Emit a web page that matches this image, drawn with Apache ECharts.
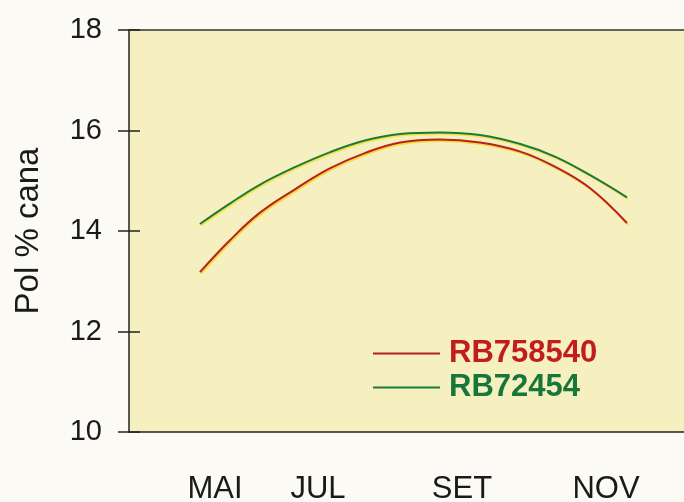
<!DOCTYPE html>
<html>
<head>
<meta charset="utf-8">
<script src="https://cdn.jsdelivr.net/npm/echarts@6/dist/echarts.min.js"></script>
<style>
html,body{margin:0;padding:0;background:#fbfaf5;}
#chart{width:684px;height:502px;}
</style>
</head>
<body>
<div id="chart"></div>
<script>
// Month labels and their positions on the month scale (5 = May ... 11 = Nov)
var xLabels = ['MAI', 'JUL', 'SET', 'NOV'];
var xLabelPos = [5.57, 7, 9, 11];
// Sample months along the curves
var months = [5.36, 5.78, 6.19, 6.68, 7.17, 7.65, 8.14, 8.69, 9.25, 9.81, 10.29, 10.78, 11.29];
// Pol % cana values
var rb758540 = [13.18, 13.82, 14.36, 14.83, 15.25, 15.55, 15.76, 15.82, 15.76, 15.58, 15.28, 14.85, 14.16];
var rb72454 = [14.14, 14.55, 14.92, 15.27, 15.57, 15.80, 15.93, 15.96, 15.91, 15.73, 15.48, 15.11, 14.67];
var yTicks = [10, 12, 14, 16, 18];

var FONT = '"Liberation Sans", Arial, sans-serif';
var chart = echarts.init(document.getElementById('chart'));

function pairs(xs, ys) { return xs.map(function (x, i) { return [x, ys[i]]; }); }

chart.setOption({
  backgroundColor: '#fbfaf5',
  animation: false,
  grid: {
    left: 129, right: 0, top: 30, bottom: 70,
    show: true, backgroundColor: '#f6efbf', borderWidth: 0,
    outerBoundsMode: 'none'
  },
  legend: {
    orient: 'vertical', left: 373, top: 338, padding: 0,
    icon: 'rect', itemWidth: 67, itemHeight: 2, itemGap: 3,
    textStyle: { fontSize: 31, fontWeight: 'bold', fontFamily: FONT, lineHeight: 31, padding: [0, 0, 0, 4] },
    data: [
      { name: 'RB758540', textStyle: { color: '#c21d1d' } },
      { name: 'RB72454', textStyle: { color: '#17773a' } }
    ]
  },
  xAxis: [{
    type: 'value', min: 4.375, max: 12.083, position: 'bottom',
    axisLine: { show: true, lineStyle: { color: '#222', width: 1.5 } },
    axisTick: { show: false },
    splitLine: { show: false },
    axisLabel: {
      customValues: xLabelPos,
      formatter: function (v) {
        var best = 0, d = 1e9;
        xLabelPos.forEach(function (p, i) { if (Math.abs(p - v) < d) { d = Math.abs(p - v); best = i; } });
        return xLabels[best];
      },
      fontSize: 31, color: '#1a1a1a', margin: 42, fontFamily: FONT
    }
  }, {
    type: 'value', min: 4.375, max: 12.083, position: 'top',
    axisLine: { show: true, lineStyle: { color: '#333', width: 1.5 } },
    axisTick: { show: false }, axisLabel: { show: false }, splitLine: { show: false }
  }],
  yAxis: [{
    type: 'value', min: 10, max: 18, interval: 2,
    axisLine: { show: true, lineStyle: { color: '#222', width: 1.5 } },
    axisTick: { show: true, length: 11, lineStyle: { color: '#222', width: 1.5 } },
    splitLine: { show: false },
    axisLabel: { fontSize: 29, color: '#1a1a1a', margin: 27, fontFamily: FONT,
      customValues: yTicks },
    name: 'Pol % cana', nameLocation: 'middle', nameGap: 84,
    nameTextStyle: { fontSize: 33, color: '#1a1a1a', fontFamily: FONT }
  }, {
    type: 'value', min: 10, max: 18, interval: 2, position: 'left',
    axisLine: { show: false },
    axisTick: { show: true, inside: true, length: 11, lineStyle: { color: '#222', width: 1.5 } },
    axisLabel: { show: false }, splitLine: { show: false }
  }],
  series: [{
    name: 'RB758540', type: 'line', smooth: 0.4, showSymbol: false, symbol: 'none',
    color: '#b81f1f',
    lineStyle: { width: 2, color: '#b81f1f', shadowColor: 'rgba(245,215,40,0.9)', shadowBlur: 0, shadowOffsetX: 1, shadowOffsetY: 1.5 },
    data: pairs(months, rb758540)
  }, {
    name: 'RB72454', type: 'line', smooth: 0.4, showSymbol: false, symbol: 'none',
    color: '#1a7a3c',
    lineStyle: { width: 2, color: '#1a7a3c', shadowColor: 'rgba(245,225,60,0.9)', shadowBlur: 0, shadowOffsetX: 1, shadowOffsetY: 1.5 },
    data: pairs(months, rb72454)
  }]
});
</script>
</body>
</html>
